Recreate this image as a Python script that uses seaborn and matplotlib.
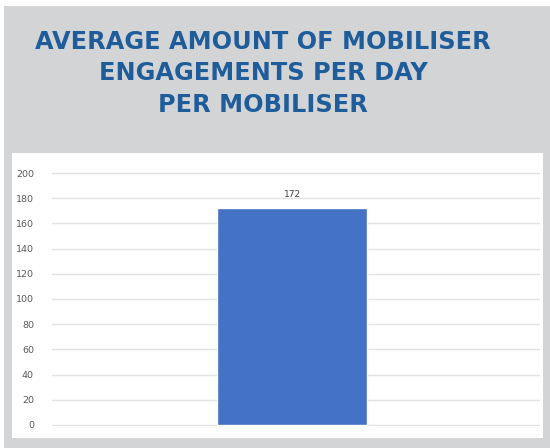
import matplotlib
matplotlib.use("Agg")
import matplotlib.pyplot as plt
import seaborn as sns
import pandas as pd
from matplotlib.patches import Rectangle

categories = ["Average engagements"]
values = [172]
yticks = [0, 20, 40, 60, 80, 100, 120, 140, 160, 180, 200]
title_lines = ["AVERAGE AMOUNT OF MOBILISER", "ENGAGEMENTS PER DAY", "PER MOBILISER"]

sns.set_theme(style="white")
plt.rcParams['font.family'] = ['DejaVu Sans']

W, H = 550, 448
fig = plt.figure(figsize=(W / 100, H / 100), dpi=100)
fig.patch.set_facecolor("white")

def px_rect(x0, y0, x1, y1, color, z):
    fig.patches.append(Rectangle((x0 / W, 1 - y1 / H), (x1 - x0) / W, (y1 - y0) / H,
                                 transform=fig.transFigure, facecolor=color,
                                 edgecolor="none", zorder=z))

px_rect(4, 6, 550, 448, "#d3d4d6", 0)
px_rect(12, 153, 543, 438, "white", 1)

title_color = "#1f5c9a"
for i, (line, yc) in enumerate(zip(title_lines, [42, 73, 105])):
    fig.text(263 / W, 1 - yc / H, line, ha="center", va="center", color=title_color,
             fontsize=17.3, fontweight="bold", family="DejaVu Sans")

ax_left, ax_right = 52, 540
ax_top, ax_bot = 172, 426
ax = fig.add_axes([ax_left / W, 1 - ax_bot / H, (ax_right - ax_left) / W, (ax_bot - ax_top) / H])
ax.set_facecolor("none")
ax.set_zorder(2)

df = pd.DataFrame({"cat": categories, "val": values})
sns.barplot(data=df, x="cat", y="val", color="#4472c4", width=0.307, saturation=1, ax=ax, zorder=3)
ax.set_xlim(-0.492, 0.508)
ax.set_ylim(-0.8, 200.8)
ax.set_yticks(yticks)
ax.set_yticklabels([str(t) for t in yticks], fontsize=6.8, color="#595959")
ax.yaxis.grid(True, color="#e3e3e3", linewidth=1)
ax.set_axisbelow(True)
ax.tick_params(axis="y", length=0, pad=13)
ax.set_xticks([])
ax.set_xlabel("")
ax.set_ylabel("")
for s in ax.spines.values():
    s.set_visible(False)
for c in ax.containers:
    ax.bar_label(c, labels=[str(v) for v in values], fontsize=6.5, color="#404040", padding=7)

fig.savefig("out.png", dpi=100, facecolor="white")
